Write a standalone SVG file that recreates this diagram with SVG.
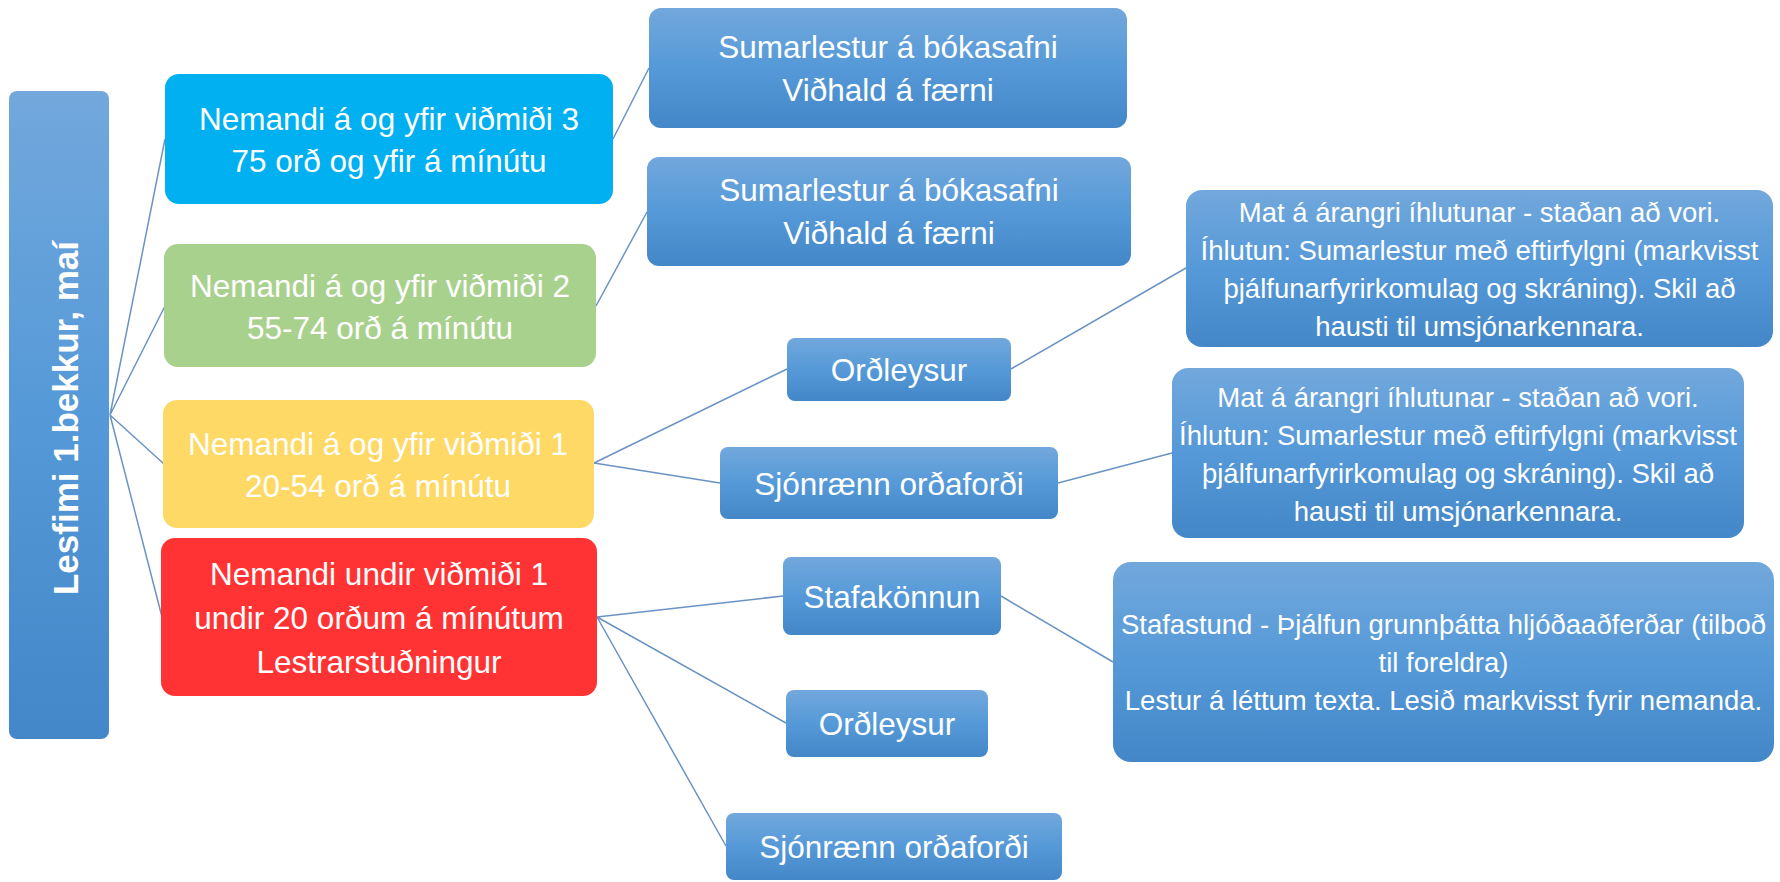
<svg xmlns="http://www.w3.org/2000/svg" width="1780" height="882" viewBox="0 0 1780 882">
<defs>
<linearGradient id="bg" x1="0" y1="0" x2="0" y2="1">
<stop offset="0" stop-color="#72A8DC"/>
<stop offset="0.5" stop-color="#5599D8"/>
<stop offset="1" stop-color="#4487C8"/>
</linearGradient>
<style>
.t{font-family:"Liberation Sans",Arial,sans-serif;fill:#ffffff;text-anchor:middle;}
.l1{font-size:31.5px;}
.l3{font-size:27.5px;}
.root{font-size:35px;font-weight:bold;}
.g{fill:url(#bg);}
.c{stroke:#6A93C4;stroke-width:1.5;fill:none;}
</style>
</defs>
<rect width="1780" height="882" fill="#ffffff"/>
<g id="connectors">
<path class="c" d="M110 415 L165 139 M110 415 L165 306 M110 415 L164 464 M110 415 L162 617"/>
<path class="c" d="M613 139 L649 68 M596 306 L647 212"/>
<path class="c" d="M594 463 L787 369 M594 463 L720 483"/>
<path class="c" d="M597 617 L783 596 M597 617 L786 723 M597 617 L726 846"/>
<path class="c" d="M1011 369 L1186 268 M1058 483 L1172 453 M1001 596 L1113 662"/>
</g>
<g id="root">
<rect class="g" x="9" y="91" width="100" height="648" rx="8"/>
<text class="t root" transform="translate(78 418) rotate(-90)">Lesfimi 1.bekkur, maí</text>
</g>
<g id="n-vidmid3">
<rect x="165" y="74" width="448" height="130" rx="14" fill="#00B0F0"/>
<text class="t l1" x="389" y="129.5">Nemandi á og yfir viðmiði 3</text>
<text class="t l1" x="389" y="171.5">75 orð og yfir á mínútu</text>
</g>
<g id="n-vidmid2">
<rect x="164" y="244" width="432" height="123" rx="14" fill="#A9D18E"/>
<text class="t l1" x="380" y="296.5">Nemandi á og yfir viðmiði 2</text>
<text class="t l1" x="380" y="338.5">55-74 orð á mínútu</text>
</g>
<g id="n-vidmid1">
<rect x="163" y="400" width="431" height="128" rx="14" fill="#FFD966"/>
<text class="t l1" x="378" y="454.5">Nemandi á og yfir viðmiði 1</text>
<text class="t l1" x="378" y="496.5">20-54 orð á mínútu</text>
</g>
<g id="n-undir">
<rect x="161" y="538" width="436" height="158" rx="14" fill="#FF3333"/>
<text class="t l1" x="379" y="584.5">Nemandi undir viðmiði 1</text>
<text class="t l1" x="379" y="628.5">undir 20 orðum á mínútum</text>
<text class="t l1" x="379" y="672.5">Lestrarstuðningur</text>
</g>
<g id="n-sumar1">
<rect class="g" x="649" y="8" width="478" height="120" rx="12"/>
<text class="t l1" x="888" y="57.5">Sumarlestur á bókasafni</text>
<text class="t l1" x="888" y="100.5">Viðhald á færni</text>
</g>
<g id="n-sumar2">
<rect class="g" x="647" y="157" width="484" height="109" rx="12"/>
<text class="t l1" x="889" y="201">Sumarlestur á bókasafni</text>
<text class="t l1" x="889" y="244">Viðhald á færni</text>
</g>
<g id="n-ordleysur1">
<rect class="g" x="787" y="338" width="224" height="63" rx="8"/>
<text class="t l1" x="899" y="381">Orðleysur</text>
</g>
<g id="n-sjon1">
<rect class="g" x="720" y="447" width="338" height="72" rx="8"/>
<text class="t l1" x="889" y="494.5">Sjónrænn orðaforði</text>
</g>
<g id="n-stafakonnun">
<rect class="g" x="783" y="557" width="218" height="78" rx="8"/>
<text class="t l1" x="892" y="607.5">Stafakönnun</text>
</g>
<g id="n-ordleysur2">
<rect class="g" x="786" y="690" width="202" height="67" rx="8"/>
<text class="t l1" x="887" y="735">Orðleysur</text>
</g>
<g id="n-sjon2">
<rect class="g" x="726" y="813" width="336" height="67" rx="8"/>
<text class="t l1" x="894" y="858">Sjónrænn orðaforði</text>
</g>
<g id="n-mat1">
<rect class="g" x="1186" y="190" width="587" height="157" rx="16"/>
<text class="t l3" x="1479.5" y="221.5">Mat á árangri íhlutunar - staðan að vori.</text>
<text class="t l3" x="1479.5" y="259.5">Íhlutun: Sumarlestur með eftirfylgni (markvisst</text>
<text class="t l3" x="1479.5" y="297.5">þjálfunarfyrirkomulag og skráning). Skil að</text>
<text class="t l3" x="1479.5" y="335.5">hausti til umsjónarkennara.</text>
</g>
<g id="n-mat2">
<rect class="g" x="1172" y="368" width="572" height="170" rx="16"/>
<text class="t l3" x="1458" y="407">Mat á árangri íhlutunar - staðan að vori.</text>
<text class="t l3" x="1458" y="445">Íhlutun: Sumarlestur með eftirfylgni (markvisst</text>
<text class="t l3" x="1458" y="483">þjálfunarfyrirkomulag og skráning). Skil að</text>
<text class="t l3" x="1458" y="521">hausti til umsjónarkennara.</text>
</g>
<g id="n-stafastund">
<rect class="g" x="1113" y="562" width="661" height="200" rx="18"/>
<text class="t l3" x="1443.5" y="634">Stafastund - Þjálfun grunnþátta hljóðaaðferðar (tilboð</text>
<text class="t l3" x="1443.5" y="672">til foreldra)</text>
<text class="t l3" x="1443.5" y="710">Lestur á léttum texta. Lesið markvisst fyrir nemanda.</text>
</g>
</svg>
